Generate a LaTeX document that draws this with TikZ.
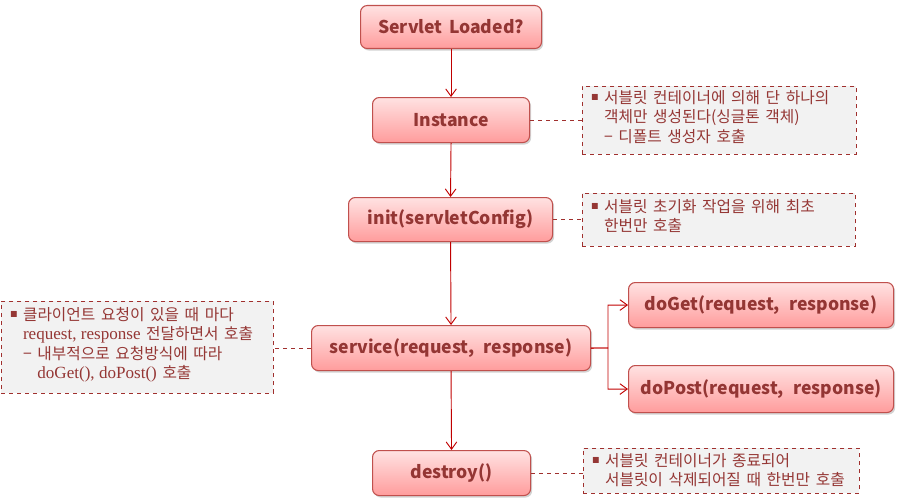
\documentclass[tikz,border=0pt]{standalone}
\usepackage{fontspec}
\usepackage{amssymb}
\usetikzlibrary{arrows.meta,shadows}
\newfontfamily\kr{Noto Sans CJK KR}
\newfontfamily\krn{Noto Sans CJK KR}[WordSpace=1.6]
\newfontfamily\serifl{Liberation Serif}
\definecolor{boxtop}{HTML}{FFE2E2}
\definecolor{boxbot}{HTML}{FF9C9C}
\definecolor{boxline}{HTML}{C0504D}
\definecolor{boxtext}{HTML}{943634}
\definecolor{notefill}{HTML}{F2F2F2}
\definecolor{noteline}{HTML}{A0302E}
\definecolor{notetext}{HTML}{953735}
\definecolor{arrowc}{HTML}{C00000}
\tikzset{
  procbox/.style={draw=boxline, line width=0.8pt, rounded corners=5pt,
    top color=boxtop, bottom color=boxbot, text=boxtext,
    font=\kr\bfseries\fontsize{13.2pt}{15pt}\selectfont,
    drop shadow={shadow xshift=1.2pt, shadow yshift=-1.5pt, opacity=0.35},
    inner sep=0pt, anchor=north west},
  notebox/.style={draw=noteline, dashed, line width=0.6pt, fill=notefill,
    inner sep=0pt, anchor=north west},
  notetxt/.style={text=notetext, font=\krn\fontsize{11.8pt}{14.6pt}\selectfont, align=left, anchor=north west, inner sep=0pt},
  arr/.style={draw=arrowc, line width=0.7pt, -{Straight Barb[length=5.5pt,width=8pt]}},
  dashconn/.style={draw=noteline, dashed, line width=0.6pt},
}
\newcommand{\bul}{{\fontsize{6pt}{6pt}\selectfont\raisebox{2pt}{$\blacksquare$}}}
\newcommand{\lat}[1]{{\serifl\fontsize{12.8pt}{14.6pt}\selectfont #1}}
\begin{document}
\begin{tikzpicture}[x=0.75pt,y=-0.75pt]
\useasboundingbox (0,0) rectangle (898,503);
% process boxes
\node[procbox, minimum width=181*0.75pt, minimum height=43*0.75pt] (load) at (360,5) {Servlet Loaded?};
\node[procbox, minimum width=157*0.75pt, minimum height=45*0.75pt] (inst) at (372,97) {Instance};
\node[procbox, minimum width=204*0.75pt, minimum height=44*0.75pt] (init) at (348,197) {init(servletConfig)};
\node[procbox, minimum width=279*0.75pt, minimum height=45*0.75pt] (serv) at (311,325) {service(request,\, response)};
\node[procbox, minimum width=265*0.75pt, minimum height=45*0.75pt] (get) at (628,282) {doGet(request,\, response)};
\node[procbox, minimum width=265*0.75pt, minimum height=47*0.75pt] (post) at (628,365) {doPost(request,\, response)};
\node[procbox, minimum width=158*0.75pt, minimum height=45*0.75pt] (dest) at (372,450) {destroy()};
% notes
\node[notebox, minimum width=274*0.75pt, minimum height=68*0.75pt] (n1) at (582,86) {};
\node[notetxt] (t1) at (591,90) {\bul\ 서블릿 컨테이너에 의해 단 하나의\\
\phantom{\bul\ }객체만 생성된다(싱글톤 객체)\\
\phantom{\bul\ }− 디폴트 생성자 호출};
\node[notebox, minimum width=273*0.75pt, minimum height=53*0.75pt] (n2) at (582,193) {};
\node[notetxt] (t2) at (591,199) {\bul\ 서블릿 초기화 작업을 위해 최초\\
\phantom{\bul\ }한번만 호출};
\node[notebox, minimum width=272*0.75pt, minimum height=92*0.75pt] (n3) at (1,301) {};
\node[notetxt] (t3) at (10,307) {\bul\ 클라이언트 요청이 있을 때 마다\\
\phantom{\bul\ }\lat{request, response} 전달하면서 호출\\
\phantom{\bul\ }− 내부적으로 요청방식에 따라\\
\phantom{\bul\ − }\lat{doGet(), doPost()} 호출};
\node[notebox, minimum width=276*0.75pt, minimum height=45*0.75pt] (n4) at (583,448) {};
\node[notetxt] (t4) at (592,453) {\bul\ 서블릿 컨테이너가 종료되어\\
\phantom{\bul\ }서블릿이 삭제되어질 때 한번만 호출};
% arrows
\draw[arr] (load.south) -- (inst.north);
\draw[arr] (inst.south) -- (init.north);
\draw[arr] (init.south) -- (serv.north);
\draw[arr] (serv.south) -- (dest.north);
\coordinate (br) at (608,348);
\draw[arr] (serv.east) -- (br) |- (get.west);
\draw[arr] (serv.east) -- (br) |- (post.west);
% dashed connectors
\draw[dashconn] (inst.east) -- (inst.east -| n1.west);
\draw[dashconn] (init.east) -- (init.east -| n2.west);
\draw[dashconn] (serv.west) -- (serv.west -| n3.east);
\draw[dashconn] (dest.east) -- (dest.east -| n4.west);
\end{tikzpicture}
\end{document}
